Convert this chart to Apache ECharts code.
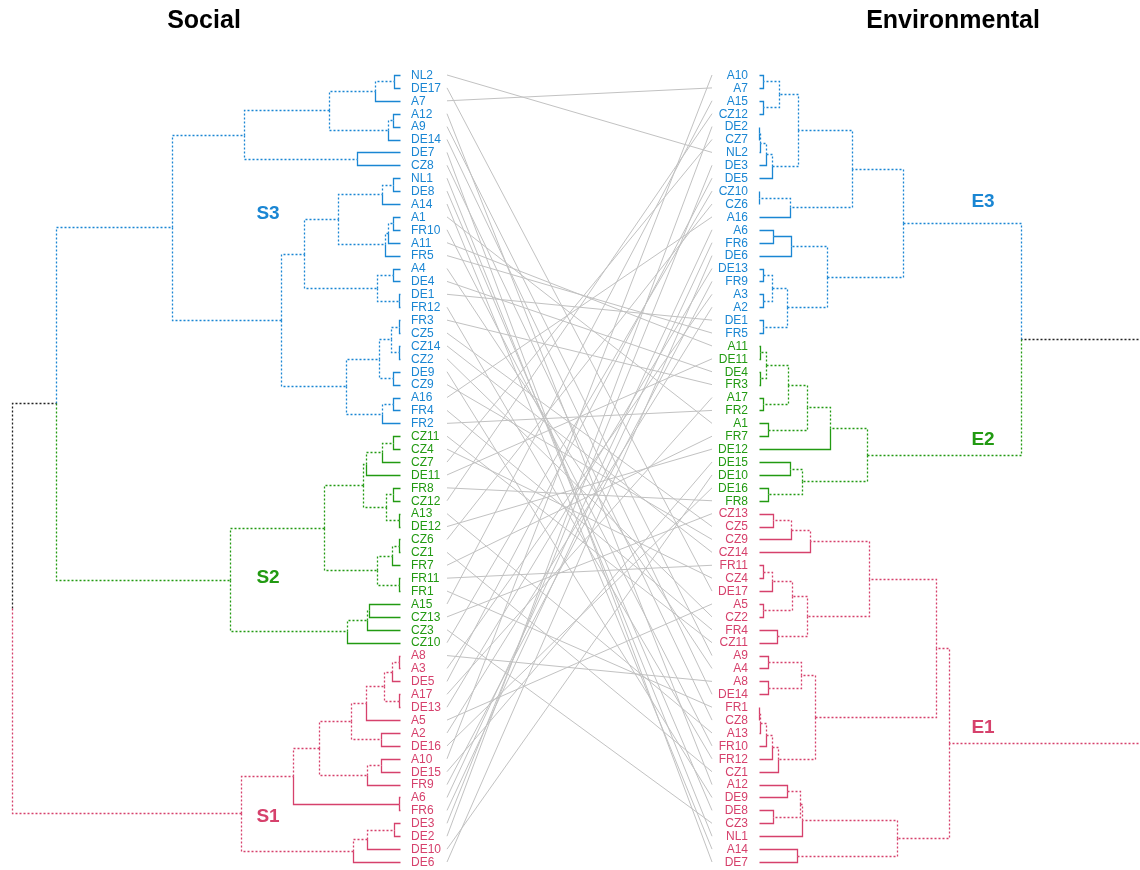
<!DOCTYPE html>
<html>
<head>
<meta charset="utf-8">
<script src="https://cdn.jsdelivr.net/npm/echarts@6/dist/echarts.min.js"></script>
<style>
  html, body { margin: 0; padding: 0; background: #fff; }
  #chart { width: 1140px; height: 870px; }
</style>
</head>
<body>
<div id="chart"></div>
<script>
// trees are [mergeHeight, left, right], leaves are the region names
const socialS3 = [1.14,
  [0.78,
    [0.355,
      [0.125, [0.03, 'NL2', 'DE17'], 'A7'],
      [0.06, [0.035, 'A12', 'A9'], 'DE14']],
    [0.215, 'DE7', 'CZ8']],
  [0.595,
    [0.48,
      [0.31,
        [0.09, [0.035, 'NL1', 'DE8'], 'A14'],
        [0.075, [0.06, [0.035, 'A1', 'FR10'], 'A11'], 'FR5']],
      [0.115, [0.035, 'A4', 'DE4'], [0.003, 'DE1', 'FR12']]],
    [0.27,
      [0.105, [0.045, [0.003, 'FR3', 'CZ5'], [0.003, 'CZ14', 'CZ2']], [0.035, 'DE9', 'CZ9']],
      [0.09, [0.035, 'A16', 'FR4'], 'FR2']]]];

const socialS2 = [0.85,
  [0.38,
    [0.185,
      [0.17, [0.09, [0.035, 'CZ11', 'CZ4'], 'CZ7'], 'DE11'],
      [0.07, [0.035, 'FR8', 'CZ12'], [0.003, 'A13', 'DE12']]],
    [0.115, [0.04, [0.003, 'CZ6', 'CZ1'], 'FR7'], [0.003, 'FR11', 'FR1']]],
  [0.265, [0.165, [0.155, 'A15', 'CZ13'], 'CZ3'], 'CZ10']];

const socialS1 = [0.795,
  [0.535,
    [0.405,
      [0.245,
        [0.17, [0.08, [0.04, [0.003, 'A8', 'A3'], 'DE5'], [0.003, 'A17', 'DE13']], 'A5'],
        [0.095, 'A2', 'DE16']],
      [0.165, [0.095, 'A10', 'DE15'], 'FR9']],
    [0.003, 'A6', 'FR6']],
  [0.235, [0.165, [0.03, 'DE3', 'DE2'], 'DE10'], 'DE6']];

const envE3 = [0.72,
  [0.465,
    [0.195,
      [0.10, [0.02, 'A10', 'A7'], [0.02, 'A15', 'CZ12']],
      [0.065, [0.035, [0.004, [0.002, 'DE2', 'CZ7'], 'NL2'], 'DE3'], 'DE5']],
    [0.155, [0.002, 'CZ10', 'CZ6'], 'A16']],
  [0.34,
    [0.16, [0.07, 'A6', 'FR6'], 'DE6'],
    [0.14, [0.065, [0.02, 'DE13', 'FR9'], [0.02, 'A3', 'A2']], [0.02, 'DE1', 'FR5']]]];

const envE2 = [0.54,
  [0.355,
    [0.24,
      [0.145, [0.035, [0.005, 'A11', 'DE11'], [0.005, 'DE4', 'FR3']], [0.02, 'A17', 'FR2']],
      [0.045, 'A1', 'FR7']],
    'DE12'],
  [0.215, [0.155, 'DE15', 'DE10'], [0.045, 'DE16', 'FR8']]];

const envE1 = [0.95,
  [0.885,
    [0.55,
      [0.255, [0.16, [0.07, 'CZ13', 'CZ5'], 'CZ9'], 'CZ14'],
      [0.24, [0.165, [0.065, [0.02, 'FR11', 'CZ4'], 'DE17'], [0.02, 'A5', 'CZ2']], [0.09, 'FR4', 'CZ11']]],
    [0.28,
      [0.21, [0.045, 'A9', 'A4'], [0.045, 'A8', 'DE14']],
      [0.095, [0.065, [0.035, [0.004, [0.002, 'FR1', 'CZ8'], 'A13'], 'FR10'], 'FR12'], 'CZ1']]],
  [0.69,
    [0.215, [0.205, [0.14, 'A12', 'DE9'], [0.07, 'DE8', 'CZ3']], 'NL1'],
    [0.19, 'A14', 'DE7']]];

const socialRoot = [1.94, [1.72, socialS3, socialS2], socialS1];
const envRoot = [1.945, [1.31, envE3, envE2], envE1];

const BLUE = '#1a86d3', GREEN = '#229a12', RED = '#d6416c', BLACK = '#222222';
const FONT = '"Liberation Sans", Arial, sans-serif';

function layout(root, colorOf) {
  const leaves = [], nodes = [];
  function walk(n, color) {
    const c = colorOf.get(n) || color;
    if (typeof n === 'string') {
      const leaf = { name: n, h: 0, y: leaves.length, set: [n], color: c, leaf: true };
      leaves.push(leaf);
      return leaf;
    }
    const a = walk(n[1], c), b = walk(n[2], c);
    const node = { h: n[0], y: (a.y + b.y) / 2, set: a.set.concat(b.set), color: c, kids: [a, b] };
    nodes.push(node);
    return node;
  }
  walk(root, BLACK);
  return { leaves, nodes };
}

const social = layout(socialRoot, new Map([[socialS3, BLUE], [socialS2, GREEN], [socialS1, RED]]));
const env = layout(envRoot, new Map([[envE3, BLUE], [envE2, GREEN], [envE1, RED]]));

// an edge is dashed when its cluster does not exist in the other tree
const keyOf = s => s.slice().sort().join('|');
function edgesOf(tree, other) {
  const common = new Set(other.nodes.map(n => keyOf(n.set)));
  const out = [];
  tree.nodes.forEach(p => p.kids.forEach(k => {
    out.push({
      pts: [[p.h, p.y], [p.h, k.y], [k.h, k.y]],
      color: k.color,
      dash: !k.leaf && !common.has(keyOf(k.set))
    });
  }));
  return out;
}
const socialEdges = edgesOf(social, env);
const envEdges = edgesOf(env, social);

const crisp = v => Math.round(v) + 0.5;

function treeSeries(edges, gi) {
  return {
    type: 'custom', xAxisIndex: gi, yAxisIndex: gi, silent: true, clip: false,
    data: edges.map(e => [e.pts[0][0], e.pts[0][1], e.pts[2][0], e.pts[2][1]]),
    encode: { x: [0, 2], y: [1, 3] },
    renderItem: (params, api) => {
      const e = edges[params.dataIndex];
      const pts = e.pts.map(p => api.coord(p)).map(p => [crisp(p[0]), crisp(p[1])]);
      return {
        type: 'polyline',
        shape: { points: pts },
        style: { stroke: e.color, lineWidth: 1.3, fill: null, lineDash: e.dash ? [2, 2] : null }
      };
    }
  };
}

function labelSeries(leaves, gi, side) {
  return {
    type: 'custom', xAxisIndex: gi, yAxisIndex: gi, silent: true, clip: false,
    data: leaves.map(l => [0, l.y]),
    renderItem: (params, api) => {
      const l = leaves[params.dataIndex];
      const p = api.coord([0, l.y]);
      const al = side === 'left' ? 'left' : 'right';
      return {
        type: 'text',
        x: p[0] + (side === 'left' ? 11 : -11),
        y: p[1] + 0.5,
        style: {
          text: l.name, fill: l.color, font: '12px ' + FONT,
          align: al, textAlign: al, verticalAlign: 'middle', textVerticalAlign: 'middle'
        }
      };
    }
  };
}

const envIndex = new Map(env.leaves.map(l => [l.name, l.y]));
const links = social.leaves.map(l => [0, l.y, 1, envIndex.get(l.name)]);

const chart = echarts.init(document.getElementById('chart'), null, { renderer: 'canvas' });
const yAx = gi => ({ type: 'value', gridIndex: gi, min: 0, max: 61, inverse: true, show: false });
const tStyle = (text, size, fill) => ({
  text, font: 'bold ' + size + 'px ' + FONT, fill,
  align: 'center', textAlign: 'center', verticalAlign: 'middle', textVerticalAlign: 'middle'
});

// the right tree's root sits just past the picture's right edge
const envGridWidth = 381;
const envAxisMax = envRoot[0] * envGridWidth / 389;

chart.setOption({
  animation: false,
  backgroundColor: '#ffffff',
  grid: [
    { left: 12, top: 75, width: 388, height: 787 },
    { left: 759, top: 75, width: envGridWidth, height: 787 },
    { left: 447, top: 75, width: 265, height: 787 }
  ],
  xAxis: [
    { type: 'value', gridIndex: 0, min: 0, max: socialRoot[0], inverse: true, show: false },
    { type: 'value', gridIndex: 1, min: 0, max: envAxisMax, show: false },
    { type: 'value', gridIndex: 2, min: 0, max: 1, show: false }
  ],
  yAxis: [yAx(0), yAx(1), yAx(2)],
  series: [
    {
      type: 'custom', xAxisIndex: 2, yAxisIndex: 2, silent: true,
      data: links,
      encode: { x: [0, 2], y: [1, 3] },
      renderItem: (params, api) => {
        const a = api.coord([api.value(0), api.value(1)]);
        const b = api.coord([api.value(2), api.value(3)]);
        return {
          type: 'line',
          shape: { x1: a[0], y1: a[1], x2: b[0], y2: b[1] },
          style: { stroke: '#c2c2c2', lineWidth: 1 }
        };
      }
    },
    treeSeries(socialEdges, 0),
    treeSeries(envEdges, 1),
    labelSeries(social.leaves, 0, 'left'),
    labelSeries(env.leaves, 1, 'right')
  ],
  graphic: [
    { type: 'text', x: 204, y: 21, style: tStyle('Social', 25, '#000') },
    { type: 'text', x: 953, y: 21, style: tStyle('Environmental', 25, '#000') },
    { type: 'text', x: 268, y: 214, style: tStyle('S3', 19, BLUE) },
    { type: 'text', x: 268, y: 578, style: tStyle('S2', 19, GREEN) },
    { type: 'text', x: 268, y: 817, style: tStyle('S1', 19, RED) },
    { type: 'text', x: 983, y: 202, style: tStyle('E3', 19, BLUE) },
    { type: 'text', x: 983, y: 440, style: tStyle('E2', 19, GREEN) },
    { type: 'text', x: 983, y: 728, style: tStyle('E1', 19, RED) }
  ]
});
</script>
</body>
</html>
